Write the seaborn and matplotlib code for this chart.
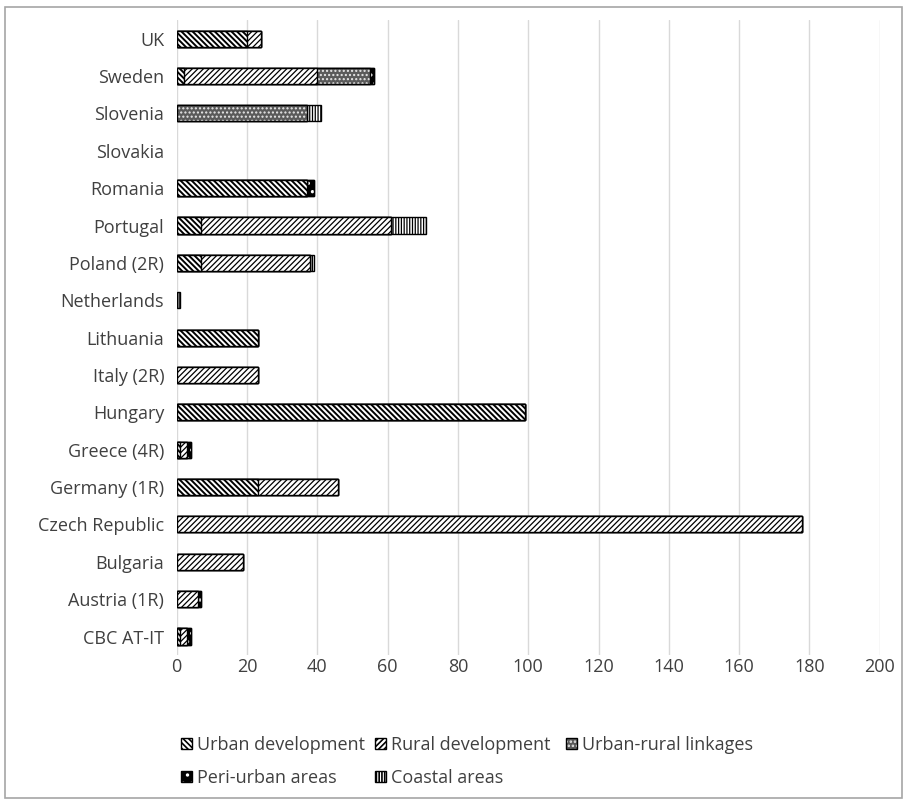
import matplotlib
matplotlib.use("Agg")
import matplotlib.pyplot as plt
import matplotlib.patches as mpatches
from matplotlib.legend_handler import HandlerTuple
import numpy as np
import pandas as pd
import seaborn as sns

# Programme areas (top to bottom) and number of projects per theme
countries = ["UK", "Sweden", "Slovenia", "Slovakia", "Romania", "Portugal",
             "Poland (2R)", "Netherlands", "Lithuania", "Italy (2R)", "Hungary",
             "Greece (4R)", "Germany (1R)", "Czech Republic", "Bulgaria",
             "Austria (1R)", "CBC AT-IT"]
urban_development = [20, 2, 0, 0, 37, 7, 7, 0, 23, 0, 99, 1, 23, 0, 0, 0, 1]
rural_development = [4, 38, 0, 0, 0, 54, 31, 0, 0, 23, 0, 2, 23, 178, 19, 6, 2]
urban_rural_linkages = [0, 15, 37, 0, 0, 0, 0, 0, 0, 0, 0, 0, 0, 0, 0, 0, 0]
peri_urban_areas = [0, 1, 0, 0, 2, 0, 0, 0, 0, 0, 0, 1, 0, 0, 0, 1, 1]
coastal_areas = [0, 0, 4, 0, 0, 10, 1, 1, 0, 0, 0, 0, 0, 0, 0, 0, 0]

series_names = ["Urban development", "Rural development", "Urban-rural linkages",
                "Peri-urban areas", "Coastal areas"]
series_values = [urban_development, rural_development, urban_rural_linkages,
                 peri_urban_areas, coastal_areas]

# fill colour, hatch colour, hatch pattern, hatch line width for each theme
styles = {
    "Urban development": ("white", "black", "\\\\\\\\\\\\", 1.4),
    "Rural development": ("white", "black", "//////", 0.9),
    "Urban-rural linkages": ("#5a5a5a", "#e8e8e8", "....", 1.0),
    "Peri-urban areas": ("black", "white", "..", 1.2),
    "Coastal areas": ("white", "black", "||||||", 0.9),
}

sns.set_theme(style="white")
plt.rcParams["font.family"] = ["Open Sans", "DejaVu Sans"]
plt.rcParams["hatch.linewidth"] = 1.2

text_color = "#404040"
fs = 13
fig = plt.figure(figsize=(9.06, 8.0), dpi=100)
ax = fig.add_axes([0.195, 0.181, 0.776, 0.794])

# cumulative totals so the segments can be layered as a stack
cum = np.cumsum(np.array(series_values, dtype=float), axis=0)
bar_width = 0.43
for i in range(len(series_names) - 1, -1, -1):
    name = series_names[i]
    face, hcol, hatch, hlw = styles[name]
    tot = np.where(cum[i] > 0, cum[i], np.nan)
    df = pd.DataFrame({"country": countries, "total": tot}).dropna()
    n0 = len(ax.patches)
    sns.barplot(data=df, x="total", y="country", order=countries, orient="h",
                color=face, saturation=1, width=bar_width, ax=ax,
                edgecolor=hcol, hatch=hatch, linewidth=0)
    for p in ax.patches[n0:]:
        if hasattr(p, "set_hatch_linewidth"):
            p.set_hatch_linewidth(hlw)
    sns.barplot(data=df, x="total", y="country", order=countries, orient="h",
                fill=False, width=bar_width, ax=ax,
                edgecolor="black", linewidth=1.0)

ax.set_xlim(0, 200)
ax.set_ylim(16.5, -0.5)
ax.set_xticks(np.arange(0, 201, 20))
ax.set_xlabel("")
ax.set_ylabel("")
ax.grid(axis="x", color="#d9d9d9", linewidth=1.0)
ax.grid(axis="y", visible=False)
ax.set_axisbelow(True)
for s in ax.spines.values():
    s.set_visible(False)
ax.tick_params(axis="both", length=0, labelsize=fs, colors=text_color)
ax.tick_params(axis="x", pad=2)
ax.tick_params(axis="y", pad=9)

# legend entries: hatch overlaid with a black outline, laid out in two rows
W, H = 906.0, 800.0
legend_pos = {  # left edge of key (px), row centre (px)
    "Urban development": (181, 745),
    "Rural development": (375, 745),
    "Urban-rural linkages": (566, 745),
    "Peri-urban areas": (181, 778),
    "Coastal areas": (375, 778),
}
for name in series_names:
    face, hcol, hatch, hlw = styles[name]
    fillp = mpatches.Patch(facecolor=face, edgecolor=hcol, hatch=hatch, linewidth=0)
    outl = mpatches.Patch(facecolor="none", edgecolor="black", linewidth=1.0)
    px, py = legend_pos[name]
    leg = fig.legend([(fillp, outl)], [name],
                     handler_map={tuple: HandlerTuple(ndivide=1)},
                     loc="center left", bbox_to_anchor=(px / W, 1 - py / H),
                     frameon=False, fontsize=fs, handlelength=0.6, handleheight=0.6,
                     handletextpad=0.3, borderpad=0, borderaxespad=0,
                     labelcolor=text_color)

# chart area border
fig.patches.append(mpatches.Rectangle((0.0055, 0.003), 0.99, 0.988, transform=fig.transFigure,
                                      fill=False, edgecolor="#a6a6a6", linewidth=1.2))

fig.savefig("out.png", dpi=100)
